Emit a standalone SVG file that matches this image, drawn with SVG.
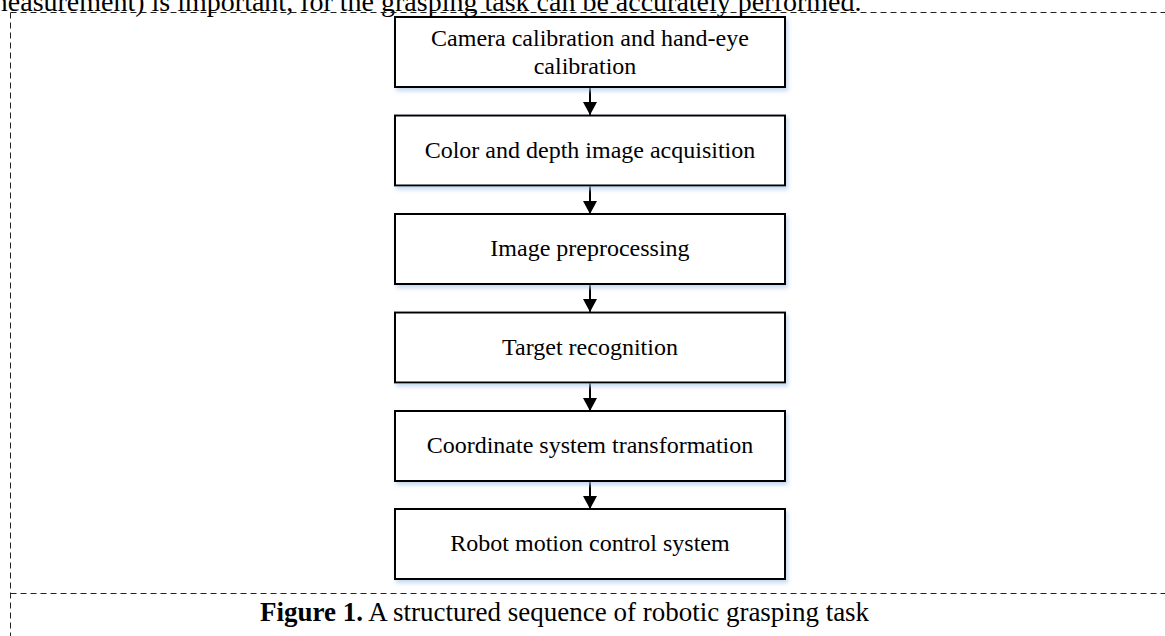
<svg xmlns="http://www.w3.org/2000/svg" width="1165" height="636" viewBox="0 0 1165 636">
<style>
.frame{fill:none;stroke:#222;stroke-width:1;stroke-dasharray:6 4}
.box{fill:#fff;stroke:#000;stroke-width:2;filter:url(#sh)}
.lbl{font-family:"Liberation Serif","Times New Roman",serif;font-size:24px;fill:#000;text-anchor:middle}
.body{font-family:"Liberation Serif","Times New Roman",serif;font-size:27px;fill:#000}
.conn{stroke:#000;stroke-width:2;fill:none;marker-end:url(#ah)}
</style>
<defs>
<filter id="sh" x="-10%" y="-20%" width="120%" height="150%">
<feDropShadow dx="2" dy="3" stdDeviation="2" flood-color="#a9c8ea" flood-opacity="0.7"/>
</filter>
<marker id="ah" markerWidth="13" markerHeight="14" refX="13" refY="7" orient="auto" markerUnits="userSpaceOnUse">
<path d="M0,0 L13,7 L0,14 Z" fill="#000"/>
</marker>
</defs>
<rect width="1165" height="636" fill="#fff"/>
<text class="body" x="-14" y="11" style="font-size:28px">measurement) is important, for the grasping task can be accurately performed.</text>
<g id="frame">
<line class="frame" x1="10.5" y1="12.5" x2="1165" y2="12.5"/>
<line class="frame" x1="10.5" y1="12.5" x2="10.5" y2="636"/>
<line class="frame" x1="10.5" y1="593.5" x2="1165" y2="593.5"/>
</g>
<g id="connectors">
<line class="conn" x1="590" y1="88" x2="590" y2="115"/>
<line class="conn" x1="590" y1="186" x2="590" y2="214"/>
<line class="conn" x1="590" y1="284" x2="590" y2="312"/>
<line class="conn" x1="590" y1="383" x2="590" y2="411"/>
<line class="conn" x1="590" y1="481" x2="590" y2="509"/>
</g>
<g id="n1"><rect class="box" x="395" y="17" width="390" height="70"/>
<text class="lbl" x="590" y="46">Camera calibration and hand-eye</text>
<text class="lbl" x="585" y="74">calibration</text></g>
<g id="n2"><rect class="box" x="395" y="115.5" width="390" height="70"/>
<text class="lbl" x="590" y="157.5">Color and depth image acquisition</text></g>
<g id="n3"><rect class="box" x="395" y="214" width="390" height="70"/>
<text class="lbl" x="590" y="256">Image preprocessing</text></g>
<g id="n4"><rect class="box" x="395" y="312.5" width="390" height="70"/>
<text class="lbl" x="590" y="354.5">Target recognition</text></g>
<g id="n5"><rect class="box" x="395" y="411" width="390" height="70"/>
<text class="lbl" x="590" y="453">Coordinate system transformation</text></g>
<g id="n6"><rect class="box" x="395" y="509" width="390" height="70"/>
<text class="lbl" x="590" y="551">Robot motion control system</text></g>
<text class="body" x="260" y="621"><tspan font-weight="bold">Figure 1.</tspan> A structured sequence of robotic grasping task</text>
</svg>
